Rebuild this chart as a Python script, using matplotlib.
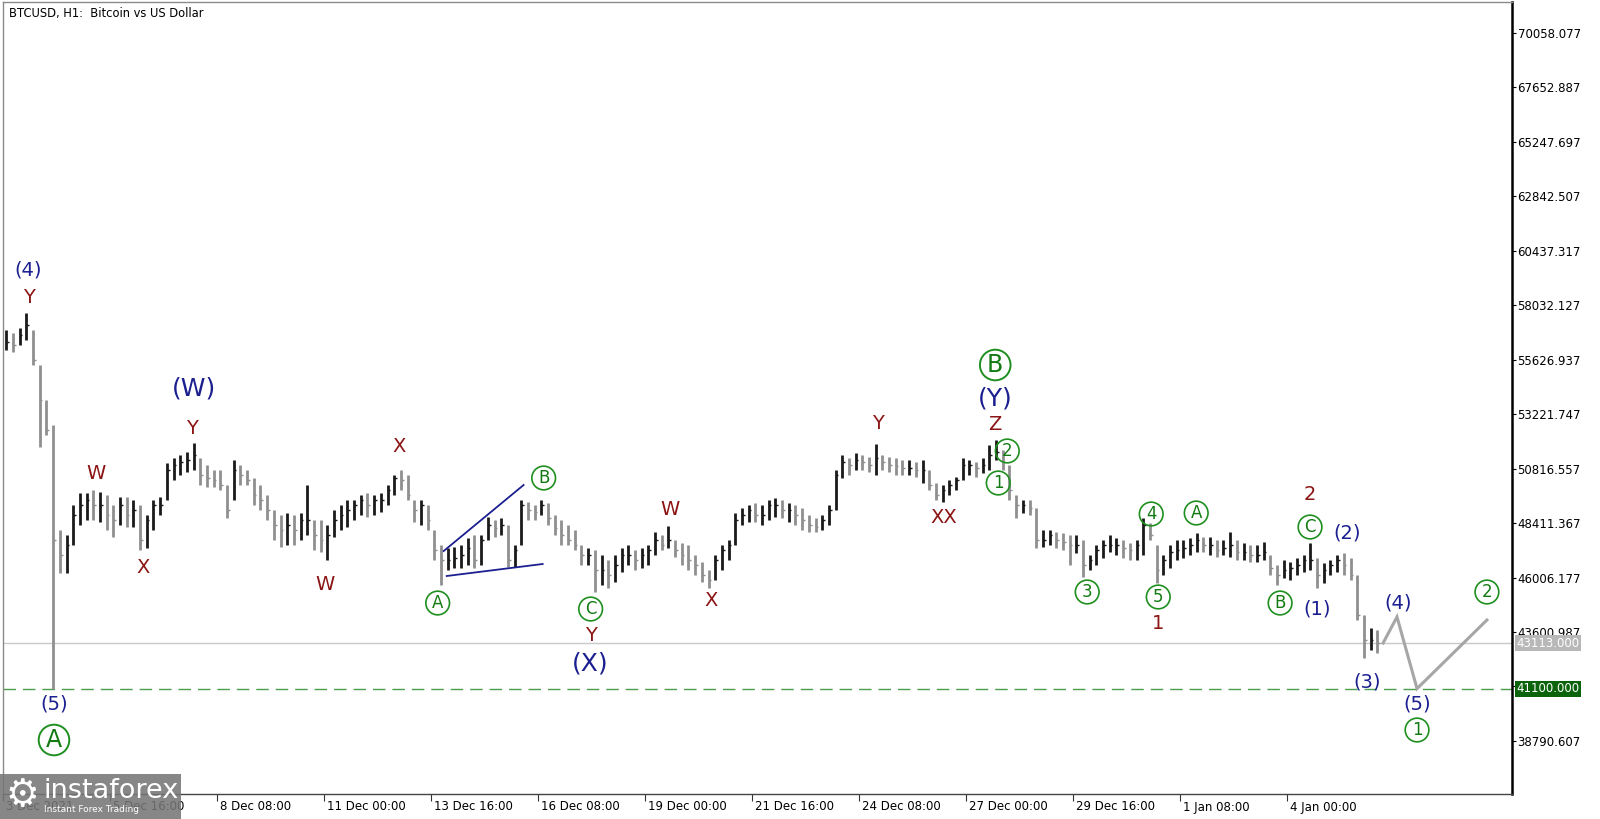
import matplotlib
matplotlib.use("Agg")
import matplotlib.pyplot as plt
import matplotlib.transforms as mtrans
from matplotlib.patches import Rectangle
import numpy as np

# --- data: BTCUSD, 4-hour bars starting 3 Dec 2021 00:00 ---
bar_step_h = 4
highs = [56940, 56807, 57029, 57690, 56940, 55394, 53848, 52744, 48106, 47885,
         49210, 49740, 49740, 49873, 49785, 49652, 49210, 49564, 49564, 49431,
         49210, 48768, 49431, 49564, 51065, 51287, 51419, 51552, 51949, 51287,
         50977, 50756, 50756, 50093, 51198, 50977, 50756, 50403, 50093, 49652,
         48989, 48768, 48856, 48768, 48856, 50093, 48548, 48548, 48327, 48989,
         49210, 49431, 49431, 49652, 49740, 49652, 49740, 50093, 50535, 50756,
         50535, 49431, 49431, 49210, 48106, 47443, 47311, 47355, 47443, 47753,
         47885, 47885, 48680, 48548, 48636, 48327, 47443, 49431, 49343, 49210,
         49431, 49298, 48768, 48548, 48327, 48106, 47443, 47311, 47222, 47001,
         46781, 47001, 47311, 47443, 47222, 47311, 47443, 48018, 47885, 48283,
         47664, 47531, 47443, 47001, 46693, 46339, 47001, 47443, 47664, 48856,
         49078, 49210, 49298, 49210, 49431, 49520, 49431, 49298, 49210, 49078,
         48768, 48636, 48768, 49210, 50756, 51419, 51287, 51507, 51419, 51331,
         51904, 51419, 51331, 51287, 51198, 51198, 51110, 51198, 50756, 50181,
         50093, 50314, 50447, 51287, 51198, 51110, 51287, 51860, 52081, 51640,
         50977, 49652, 49431, 49431, 49078, 48106, 48106, 48018, 47973, 47885,
         47885, 47664, 47001, 47443, 47664, 47885, 47753, 47664, 47531, 47664,
         48636, 48415, 47443, 47001, 47443, 47664, 47664, 47753, 47973, 47797,
         47797, 47664, 47664, 48018, 47664, 47531, 47443, 47443, 47576, 47001,
         46560, 46781, 46693, 46869, 47001, 47531, 46869, 46648, 46781, 47001,
         47089, 46869, 46118, 44351, 43777, 43689]
lows = [56057, 55969, 56277, 56498, 55394, 51772, 52302, 41100, 46206, 46206,
        47443, 48327, 48548, 48548, 48460, 48106, 47797, 48327, 48239, 48239,
        47222, 47311, 48106, 48768, 49431, 50314, 50535, 50668, 50756, 50093,
        50005, 50005, 49873, 48636, 49431, 50093, 50093, 49210, 48989, 48548,
        47664, 47355, 47443, 47443, 47664, 47885, 47222, 47134, 46781, 47797,
        48106, 48239, 48548, 48768, 48680, 48768, 48901, 49210, 49652, 49873,
        49431, 48460, 48327, 48106, 46781, 45676, 46339, 46428, 46428, 46560,
        46428, 46560, 47664, 47797, 47885, 46472, 46472, 47443, 48548, 48548,
        48768, 48327, 47885, 47443, 47443, 47222, 46560, 46560, 45368, 45676,
        45544, 45809, 46251, 46560, 46339, 46428, 46560, 47001, 47222, 47311,
        46913, 46560, 46339, 46118, 45809, 45544, 45897, 46339, 46781, 47443,
        48327, 48460, 48460, 48327, 48548, 48680, 48636, 48460, 48327, 48106,
        48018, 48018, 48106, 48327, 48989, 50403, 50535, 50756, 50756, 50668,
        50535, 50756, 50668, 50535, 50535, 50535, 50447, 50181, 49873, 49431,
        49343, 49652, 49873, 50314, 50535, 50447, 50623, 50756, 51198, 50756,
        49431, 48636, 48856, 48768, 47311, 47355, 47443, 47311, 47222, 46560,
        47089, 46030, 46339, 46560, 46869, 47134, 47001, 46869, 46781, 46781,
        47001, 47664, 45764, 46118, 46428, 46781, 46869, 47001, 47134, 47134,
        47001, 46913, 47001, 46913, 46781, 46781, 46693, 46693, 46781, 46118,
        45676, 45986, 45897, 46118, 46251, 46339, 45544, 45764, 46118, 46251,
        46118, 45897, 44130, 42452, 42805, 42672]
closes = [56410, 56277, 56719, 57161, 55615, 53848, 52523, 47664, 47001, 47443,
          48768, 49210, 49431, 49210, 49210, 48768, 48548, 49210, 48768, 48989,
          47664, 48548, 49210, 49210, 50756, 50977, 51110, 51198, 51419, 50535,
          50403, 50314, 50093, 48989, 50756, 50535, 50314, 49652, 49431, 48989,
          48327, 48106, 48327, 48106, 48548, 48548, 47885, 47664, 47885, 48548,
          48768, 48989, 49210, 49431, 49210, 49431, 49431, 49873, 50403, 50314,
          49652, 48989, 49210, 48548, 47222, 46781, 46781, 46869, 47001, 47311,
          46781, 47664, 48327, 48195, 48327, 46781, 47222, 49210, 48989, 48901,
          49210, 48636, 48195, 47885, 47664, 47443, 47001, 47001, 46339, 46339,
          46118, 46560, 47001, 47001, 46781, 47001, 47222, 47664, 47443, 47664,
          47222, 47001, 46781, 46560, 46118, 45897, 46781, 47222, 47443, 48548,
          48768, 48989, 48768, 48768, 49210, 49210, 48989, 48989, 48768, 48548,
          48327, 48239, 48548, 48989, 50535, 51110, 50977, 51198, 51110, 50977,
          51287, 51110, 50977, 50933, 50845, 50845, 50756, 50756, 50093, 49652,
          49873, 50093, 50314, 50977, 50977, 50845, 50977, 51419, 51552, 51110,
          49873, 49210, 49210, 49078, 47664, 47664, 47885, 47664, 47576, 47443,
          47443, 46560, 46781, 47222, 47443, 47443, 47443, 47311, 47222, 47443,
          48327, 47885, 46339, 46781, 47134, 47222, 47311, 47443, 47664, 47443,
          47443, 47222, 47311, 47443, 47134, 47134, 47001, 47001, 47134, 46428,
          46118, 46339, 46428, 46560, 46781, 46781, 46118, 46339, 46560, 46781,
          46560, 46118, 44351, 43247, 43247, 43113]

current_price = 43113.0
target_price = 41100.0

# projected path (hours from start, price)
proj_hours = [825.5, 833.8, 845.8, 887.6]
proj_prices = [43113, 44267, 41100, 44130]

# triangle lines (hours, price)
tri_upper_h = [263.6, 311.4]
tri_upper_p = [47178, 50094]
tri_lower_h = [265.4, 322.8]
tri_lower_p = [46074, 46604]

price_ticks = [70058.077, 67652.887, 65247.697, 62842.507, 60437.317, 58032.127,
               55626.937, 53221.747, 50816.557, 48411.367, 46006.177, 43600.987,
               41195.797, 38790.607]
time_tick_hours = [0, 64, 128, 192, 256, 320, 384, 448, 512, 576, 640, 704, 768]
time_tick_labels = ['3 Dec 2021', '5 Dec 16:00', '8 Dec 08:00', '11 Dec 00:00',
                    '13 Dec 16:00', '16 Dec 08:00', '19 Dec 00:00', '21 Dec 16:00',
                    '24 Dec 08:00', '27 Dec 00:00', '29 Dec 16:00', '1 Jan 08:00',
                    '4 Jan 00:00']

NAVY = '#1b1f8f'
RED = '#8b1414'
GREEN = '#137a13'

# wave labels: text, hour, price, kind
labels = [
    ('(4)', 15, 59590, 'navy'), ('Y', 15.5, 58354, 'red'),
    ('(5)', 30.5, 40420, 'navy'), ('A', 30.5, 38830, 'circL'),
    ('W', 55.6, 50580, 'red'), ('X', 83.7, 46428, 'red'),
    ('(W)', 114, 54378, 'navyL'), ('Y', 113, 52611, 'red'),
    ('W', 192.5, 45677, 'red'), ('X', 236.7, 51816, 'red'),
    ('A', 260, 44881, 'circ'), ('B', 323.4, 50403, 'circ'),
    ('C', 351.5, 44616, 'circ'), ('Y', 351.5, 43468, 'red'),
    ('(X)', 351.5, 42231, 'navyL'),
    ('W', 398.7, 49033, 'red'), ('X', 423.8, 44970, 'red'),
    ('Y', 523.6, 52832, 'red'), ('XX', 563, 48680, 'red'),
    ('B', 593.5, 55394, 'circL'), ('(Y)', 593.5, 53936, 'navyL'),
    ('Z', 593.5, 52788, 'red'), ('2', 600.7, 51596, 'circ'),
    ('1', 595.3, 50182, 'circ'), ('3', 648.5, 45368, 'circ'),
    ('4', 686.8, 48813, 'circ'), ('5', 691, 45147, 'circ'),
    ('1', 691, 43954, 'red'), ('A', 713.7, 48857, 'circ'),
    ('B', 763.9, 44881, 'circ'), ('2', 781.8, 49652, 'red'),
    ('C', 781.8, 48238, 'circ'), ('(2)', 804, 47973, 'navy'),
    ('(1)', 786, 44616, 'navy'), ('(3)', 816, 41392, 'navy'),
    ('(4)', 834.4, 44881, 'navy'), ('(5)', 845.8, 40420, 'navy'),
    ('1', 845.8, 39272, 'circ'), ('2', 887.6, 45368, 'circ'),
]

W, H = 1600, 819
fig = plt.figure(figsize=(W / 100, H / 100), dpi=100)
ax = fig.add_axes([3 / W, 25 / H, (1512 - 3) / W, (794 - 2) / H])

n = len(highs)
bar_hours = bar_step_h * np.arange(n) + bar_step_h / 2
cols = ['#1a1a1a' if i == 0 or closes[i] >= closes[i - 1] else '#8f8f8f' for i in range(n)]
ax.vlines(bar_hours, lows, highs, colors=cols, lw=2.0, zorder=3)
ax.hlines(closes, bar_hours, bar_hours + 1.6, colors=cols, lw=1.0, zorder=3)

ax.axhline(current_price, color='#c8c8c8', lw=1.0, zorder=1)
ax.axhline(target_price, color='#4c9e4c', lw=1.0, ls=(0, (9, 5)), zorder=1)

ax.plot(proj_hours, proj_prices, color='#a6a6a6', lw=2.2, zorder=4,
        solid_joinstyle='miter')
ax.plot(tri_upper_h, tri_upper_p, color=NAVY, lw=1.3, zorder=4)
ax.plot(tri_lower_h, tri_lower_p, color=NAVY, lw=1.3, zorder=4)

for txt, hx, py, kind in labels:
    if kind == 'navy':
        ax.text(hx, py, txt, color=NAVY, fontsize=14, ha='center', va='center', zorder=6)
    elif kind == 'navyL':
        ax.text(hx, py, txt, color=NAVY, fontsize=18, ha='center', va='center', zorder=6)
    elif kind == 'red':
        ax.text(hx, py, txt, color=RED, fontsize=14, ha='center', va='center', zorder=6)
    elif kind == 'circ':
        ax.text(hx, py, txt, color=GREEN, fontsize=12, ha='center', va='center', zorder=6,
                bbox=dict(boxstyle='circle,pad=0.17', fc='none', ec='#1f8f1f', lw=1.2))
    else:
        ax.text(hx, py, txt, color=GREEN, fontsize=17, ha='center', va='center', zorder=6,
                bbox=dict(boxstyle='circle,pad=0.14', fc='none', ec='#1f8f1f', lw=1.4))

ax.set_xlim(0.6, 902.6)
ax.set_ylim(36445, 71428)

ax.yaxis.tick_right()
ax.set_yticks(price_ticks)
ax.set_yticklabels([f'{v:.3f}' for v in price_ticks])
ax.tick_params(axis='y', direction='out', length=3, pad=1, labelsize=8.5,
               colors='black', width=0.8)
ax.set_xticks(time_tick_hours)
ax.set_xticklabels([])
ax.tick_params(axis='x', direction='out', length=5, width=0.8, colors='#333333')
off = mtrans.ScaledTranslation(3 / 100, 0, fig.dpi_scale_trans)
xtr = mtrans.blended_transform_factory(ax.transData, ax.transAxes) + off
for hx, lab in zip(time_tick_hours, time_tick_labels):
    ax.text(hx, -13 / 792, lab, transform=xtr, ha='left', va='center',
            fontsize=8.5, clip_on=False)

for side in ('left', 'top'):
    ax.spines[side].set_color('#8a8a8a')
    ax.spines[side].set_linewidth(1.0)
ax.spines['right'].set_color('black')
ax.spines['right'].set_linewidth(1.8)
ax.spines['bottom'].set_color('#444444')
ax.spines['bottom'].set_linewidth(1.0)

ax.text(6 / 1509, 1 - 11 / 792, 'BTCUSD, H1:  Bitcoin vs US Dollar', transform=ax.transAxes,
        fontsize=8.3, ha='left', va='center', color='black')

# price boxes on the right axis
for price, fc in ((current_price, '#b8b8b8'), (target_price, '#0b640b')):
    ax.annotate(f'{price:.3f}', xy=(1.0, price), xycoords=('axes fraction', 'data'),
                xytext=(3, 0), textcoords='offset points', ha='left', va='center',
                fontsize=8.5, color='white', annotation_clip=False, zorder=10,
                bbox=dict(boxstyle='square,pad=0.12', fc=fc, ec='none'))

# watermark logo
fig.patches.append(Rectangle((0, 0), 181 / W, 45 / H, transform=fig.transFigure,
                             fc='#767676', ec='none', alpha=0.88, zorder=10))
fig.text(22 / W, 23 / H, '\u2699', color='white', fontsize=27, ha='center', va='center',
         zorder=11)
fig.text(43 / W, 28 / H, 'instaforex', color='white', fontsize=19.5, ha='left', va='center',
         zorder=11)
fig.text(44 / W, 9 / H, 'Instant Forex Trading', color='white', fontsize=6.5, ha='left',
         va='center', zorder=11)

fig.savefig('out.png', dpi=100)
